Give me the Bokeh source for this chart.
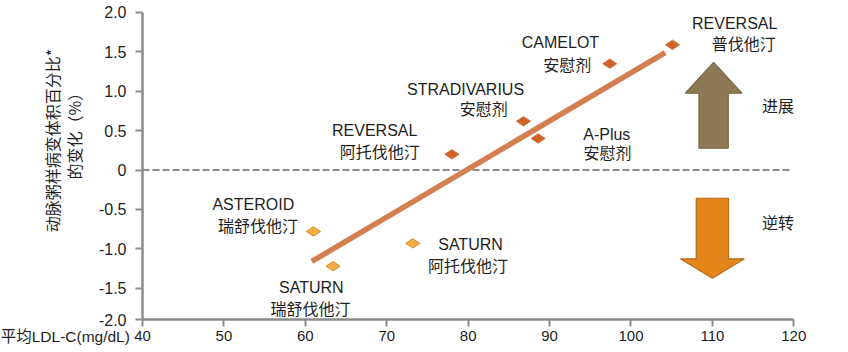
import numpy as np
from bokeh.plotting import figure
from bokeh.models import Range1d, FixedTicker, ColumnDataSource
from bokeh.core.properties import value
from bokeh.embed import file_html
from bokeh.resources import INLINE

# ---------------- data ----------------
trials = ["REVERSAL 普伐他汀", "CAMELOT 安慰剂", "STRADIVARIUS 安慰剂", "A-Plus 安慰剂",
          "REVERSAL 阿托伐他汀", "ASTEROID 瑞舒伐他汀", "SATURN 阿托伐他汀", "SATURN 瑞舒伐他汀"]
ldl = [105.1, 97.4, 86.8, 88.6, 78.0, 61.0, 73.2, 63.4]
pav = [1.59, 1.35, 0.62, 0.40, 0.20, -0.78, -0.93, -1.22]
group = ["dark", "dark", "dark", "dark", "dark", "light", "light", "light"]

trend_x = [60.8, 104.2]
trend_y = [-1.16, 1.49]

x_ticks = [40, 50, 60, 70, 80, 90, 100, 110, 120]
y_ticks = [-2.0, -1.5, -1.0, -0.5, 0.0, 0.5, 1.0, 1.5, 2.0]
y_tick_labels = ["-2.0", "-1.5", "-1.0", "-0.5", "0", "0.5", "1.0", "1.5", "2.0"]

x_title = "平均LDL-C(mg/dL)"
y_title_1 = "动脉粥样病变体积百分比*"
y_title_2 = "的变化（%）"

# ---------------- styling ----------------
LATIN = "Liberation Sans"
CJK = "Noto Sans CJK SC"
MIXED = "Liberation Sans, Noto Sans CJK SC"
TXT = "#1e1e1e"
AXIS = "#8c8c8c"
DARK_FILL, DARK_LINE = "#D1612B", "#D66E3C"
LIGHT_FILL, LIGHT_LINE = "#F5AE45", "#D8891F"
TREND = "#D47F52"

# the reference axis bottom sits slightly above -2.0 (its last tick is labelled "-2.0")
y_bottom = -1.9

# The frame fills the page; the axes are pinned at x=40 / y=y_bottom so that
# titles and labels in the margins can be drawn as ordinary text.
p = figure(width=848, height=352, output_backend="svg", toolbar_location=None,
           x_range=Range1d(22.557, 126.72), y_range=Range1d(-2.316, 2.1523),
           min_border=0)
p.outline_line_color = None
p.grid.visible = False
p.background_fill_color = "white"
p.border_fill_color = "white"

for ax in (p.xaxis[0], p.yaxis[0]):
    ax.axis_line_color = AXIS
    ax.axis_line_width = 2.5
    ax.major_tick_line_color = AXIS
    ax.major_tick_line_width = 2
    ax.major_tick_out = 7
    ax.major_tick_in = 0
    ax.minor_tick_line_color = None
    ax.major_label_text_color = TXT
    ax.major_label_text_font = LATIN

p.xaxis.fixed_location = y_bottom
p.xaxis.bounds = (x_ticks[0], x_ticks[-1])
p.xaxis.ticker = FixedTicker(ticks=x_ticks)
p.xaxis.major_label_text_font_size = "15px"
p.xaxis.major_label_standoff = 4

ytick_pos = [y_bottom] + y_ticks[1:]
p.yaxis.fixed_location = x_ticks[0]
p.yaxis.bounds = (y_bottom, y_ticks[-1])
p.yaxis.ticker = FixedTicker(ticks=ytick_pos)
p.yaxis.major_label_overrides = {v: s for v, s in zip(ytick_pos, y_tick_labels)}
p.yaxis.major_label_text_font_size = "16px"
p.yaxis.major_label_standoff = 9

# zero reference line across the axis span
p.segment(x0=[x_ticks[0]], x1=[x_ticks[-1] - 0.4], y0=[0], y1=[0],
          line_color=AXIS, line_width=2, line_dash="7 3")

# progression / regression arrows (annotations): centre x, shaft half width,
# head half width, shaft end y, head base y, tip y
arrows = [
    dict(cx=110.15, shaft=1.8, head=3.48, base=0.277, neck=0.975, tip=1.368, fill="#8E7955", line="#7A6545"),
    dict(cx=110.0, shaft=1.98, head=3.93, base=-0.358, neck=-1.127, tip=-1.373, fill="#E4851A", line="#B56A1C"),
]
for a in arrows:
    xs = [a["cx"] - a["shaft"], a["cx"] - a["shaft"], a["cx"] - a["head"], a["cx"],
          a["cx"] + a["head"], a["cx"] + a["shaft"], a["cx"] + a["shaft"]]
    ys = [a["base"], a["neck"], a["neck"], a["tip"], a["neck"], a["neck"], a["base"]]
    p.patch(xs, ys, fill_color=a["fill"], line_color=a["line"], line_width=1.2)

# trend line
p.line(trend_x, trend_y, line_color=TREND, line_width=5.5, line_cap="butt")

# trial points
src = ColumnDataSource(dict(
    x=ldl, y=pav, name=trials,
    fill=[DARK_FILL if g == "dark" else LIGHT_FILL for g in group],
    line=[DARK_LINE if g == "dark" else LIGHT_LINE for g in group],
))
p.scatter("x", "y", source=src, marker="diamond", size=14, angle=np.pi / 2,
          fill_color="fill", line_color="line", line_width=1)

# point labels (annotation positions in data units)
latin_labels = [
    ("REVERSAL", 112.74, 1.855),
    ("CAMELOT", 91.34, 1.614),
    ("STRADIVARIUS", 79.68, 1.028),
    ("REVERSAL", 68.52, 0.508),
    ("A-Plus", 97.03, 0.453),
    ("ASTEROID", 53.61, -0.435),
    ("SATURN", 80.29, -0.943),
    ("SATURN", 60.73, -1.487),
]
cjk_labels = [
    ("普伐他汀", 113.86, 1.612),
    ("安慰剂", 92.17, 1.348),
    ("安慰剂", 81.92, 0.787),
    ("阿托伐他汀", 69.14, 0.247),
    ("安慰剂", 97.12, 0.226),
    ("瑞舒伐他汀", 54.19, -0.692),
    ("阿托伐他汀", 79.98, -1.199),
    ("瑞舒伐他汀", 60.64, -1.745),
    ("进展", 118.06, 0.831),
    ("逆转", 118.06, -0.662),
]
for labels, font in ((latin_labels, LATIN), (cjk_labels, CJK)):
    p.text(x=[l[1] for l in labels], y=[l[2] for l in labels], text=[l[0] for l in labels],
           text_font=value(font), text_font_size="16px", text_color=TXT,
           text_align="center", text_baseline="middle")

# axis titles
p.text(x=[38.45], y=[-2.113], text=[x_title], text_font=value(MIXED), text_font_size="15.5px",
       text_color=TXT, text_align="right", text_baseline="middle")
p.text(x=[28.9, 31.6], y=[0.374, 0.48], text=[y_title_1, y_title_2], angle=np.pi / 2,
       text_font=value(CJK), text_font_size="16px", text_color=TXT,
       text_align="center", text_baseline="middle")

open("out.html", "w").write(file_html(p, INLINE))
